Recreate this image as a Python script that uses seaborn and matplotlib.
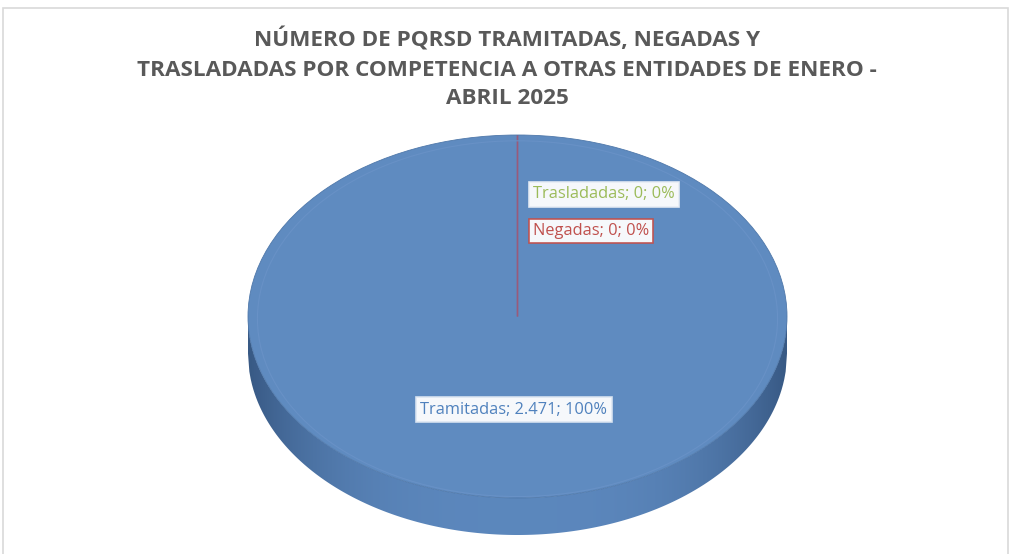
import numpy as np
import matplotlib
matplotlib.use("Agg")
import matplotlib.pyplot as plt
import seaborn as sns
from matplotlib.patches import Rectangle, Ellipse, Polygon

# datos
categorias = ["Tramitadas", "Negadas", "Trasladadas"]
valores = [2471, 0, 0]
etiquetas = ["Tramitadas; 2.471; 100%", "Negadas; 0; 0%", "Trasladadas; 0; 0%"]
titulo = ("NÚMERO DE PQRSD TRAMITADAS, NEGADAS Y\n"
          "TRASLADADAS POR COMPETENCIA A OTRAS ENTIDADES DE ENERO -\n"
          "ABRIL 2025")

sns.set_theme(style="white")
plt.rcParams['font.family'] = ['Open Sans', 'DejaVu Sans']

colores = ["#5f8bc0", "#c0504d", "#9bbb59"]
texto_col = ["#4f81bd", "#c0504d", "#9bbb59"]

W, H = 1011, 554
fig = plt.figure(figsize=(W / 100, H / 100), dpi=100)
ax = fig.add_axes([0, 0, 1, 1])

# pie geometry in pixels -> unit circle
cx, cy, ax_px, by_px, thick_px = 517.5, 316.5, 269.5, 181.5, 37


def px(x, y):
    return (x - cx) / ax_px, (cy - y) / by_px


t = thick_px / by_px

# side of the 3D pie with horizontal gradient
xs = np.linspace(-1, 1, 400)
yt = -np.sqrt(np.clip(1 - xs ** 2, 0, None))
verts = np.concatenate([np.column_stack([xs, yt]),
                        np.column_stack([xs[::-1], yt[::-1] - t])])
side = Polygon(verts, closed=True, facecolor="none", edgecolor="none")
ax.add_patch(side)
grad = np.abs(np.linspace(-1, 1, 256)) ** 3
c_mid = np.array([0.36, 0.53, 0.74])
c_edge = np.array([0.22, 0.35, 0.52])
img = c_mid[None, :] * (1 - grad[:, None]) + c_edge[None, :] * grad[:, None]
im = ax.imshow(img[None, :, :], extent=(-1, 1, -1 - t - 0.02, 0),
               aspect="auto", zorder=1)
im.set_clip_path(side)

# top face (clockwise from 12 o'clock, like Excel)
wedges, _ = ax.pie(valores, colors=colores, startangle=90, counterclock=False,
                   radius=1, center=(0, 0), frame=True,
                   wedgeprops=dict(linewidth=0))
wedges[0].set_edgecolor("none")
for w in wedges[1:]:
    w.set_edgecolor("#9a5a7a")
    w.set_linewidth(1.0)
for w in wedges:
    w.set_zorder(2)
ax.add_patch(Ellipse((0, -0.012), 1.93, 1.96, fill=False, edgecolor="#6891c6",
                     linewidth=0.8, zorder=3))
ax.add_patch(Ellipse((0, 0), 2, 2, fill=False, edgecolor="#4f78aa",
                     linewidth=0.6, zorder=3))

ax.set_aspect("auto")
x0, y0 = px(0, H)
x1, y1 = px(W, 0)
ax.set_xlim(x0, x1)
ax.set_ylim(y0, y1)
ax.axis("off")

# outer chart frame
fig.patches.append(Rectangle((3 / W, -0.01), 1005 / W, 1 - 8 / H + 0.01,
                             transform=fig.transFigure, fill=False,
                             edgecolor="#d9d9d9", linewidth=1.2))

# data labels (x is the left edge of the text unless centred)
pos_lab = {"Tramitadas": (514, 409.5, "center"),
           "Negadas": (533, 231, "left"),
           "Trasladadas": (533, 194.5, "left")}
bordes = {"Tramitadas": "#dce6f2", "Negadas": "#c0504d", "Trasladadas": "#e6ecf4"}
for cat, lab, col in zip(categorias, etiquetas, texto_col):
    x_p, y_p, ha = pos_lab[cat]
    x, y = px(x_p, y_p)
    ax.text(x, y, lab, color=col, fontsize=11.8, ha=ha, va="center", zorder=5,
            bbox=dict(boxstyle="square,pad=0.25", facecolor="white", alpha=0.95,
                      edgecolor=bordes[cat], linewidth=1.2))

fig.text(507 / W, 1 - 68.5 / H, titulo, ha="center", va="center", fontsize=16.2,
         fontweight="bold", color="#595959", linespacing=1.48)

fig.savefig("out.png", dpi=100)
